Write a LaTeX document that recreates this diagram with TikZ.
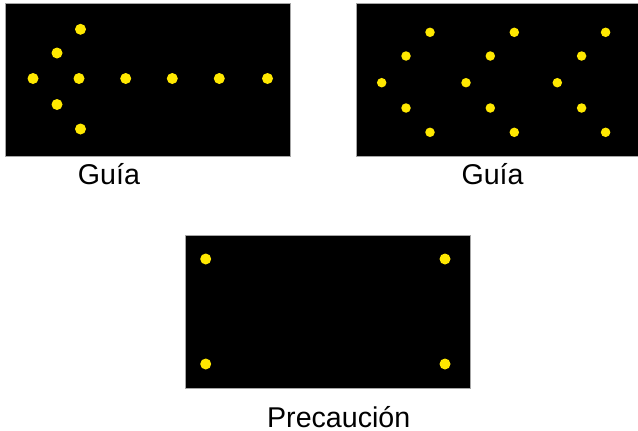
\documentclass[tikz,border=0pt]{standalone}
\usepackage{fontspec}
\setmainfont{Liberation Sans}
\definecolor{lamp}{RGB}{255,232,0}
\begin{document}
\begin{tikzpicture}[x=1pt,y=-1pt,
  panel/.style={fill=black,draw=black!35,line width=0.6pt},
  lampbig/.style={circle,fill=lamp,inner sep=0pt,minimum size=11pt},
  lampsmall/.style={circle,fill=lamp,inner sep=0pt,minimum size=9.5pt},
  caption/.style={anchor=base,inner sep=0pt,font=\fontsize{28.6}{32}\selectfont}]
\useasboundingbox (0,0) rectangle (638,431);
% panel 1
\path[panel] (5,3) rectangle (290,156.5);
\foreach \x/\y [count=\i] in {33/78.5,57/53,80.5/29.3,79/78.5,57/104.5,80.5/129,125.7/78.5,172.3/78.5,219.3/78.5,267.5/78.5}
  \node[lampbig] (a\i) at (\x,\y) {};
\node[caption] (t1) at (109,184) {Guía};
% panel 2
\path[panel] (356.7,3) rectangle (640,156.5);
\foreach \x in {0,84.3,175.6} {
  \node[lampsmall] at (381.7+\x,82.7) {};
  \node[lampsmall] at (406+\x,56) {};
  \node[lampsmall] at (430+\x,32.3) {};
  \node[lampsmall] at (406+\x,108) {};
  \node[lampsmall] at (430+\x,132.3) {};
}
\node[caption] (t2) at (492.5,184) {Guía};
% panel 3
\path[panel] (185,235) rectangle (470,388.3);
\node[lampbig] (c1) at (205.7,259) {};
\node[lampbig] (c2) at (445,259) {};
\node[lampbig] (c3) at (205.7,364) {};
\node[lampbig] (c4) at (445,364) {};
\node[caption] (t3) at (338.7,427) {Precaución};
\end{tikzpicture}
\end{document}
